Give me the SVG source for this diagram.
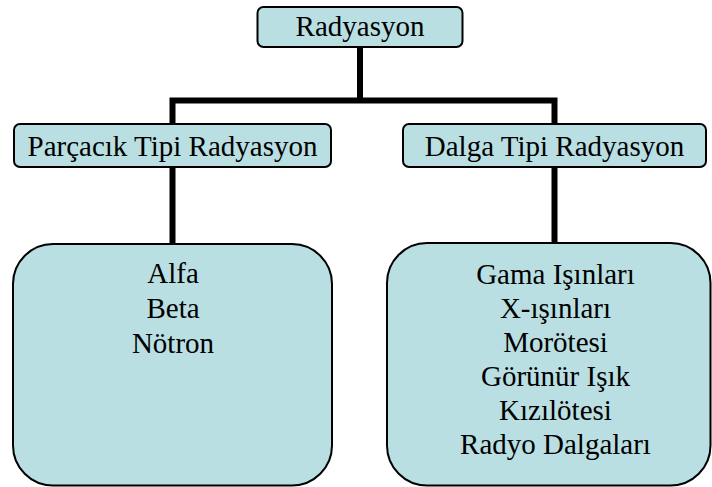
<svg xmlns="http://www.w3.org/2000/svg" width="712" height="487" viewBox="0 0 712 487">
<style>
.box{fill:#B9DFE3;stroke:#000;stroke-width:2}
.t{font-family:'Liberation Serif','Times New Roman',serif;font-size:29px;fill:#000;text-anchor:middle}
.c{fill:none;stroke:#000;stroke-width:6}
</style>
<rect width="712" height="487" fill="#fff"/>
<g id="connectors">
<path class="c" d="M360,47 V100.5 M172.5,100.5 H557.5 M172.5,97.5 V124 M554.5,97.5 V124 M172.5,167 V244 M554.5,167 V243"/>
</g>
<g id="radyasyon">
<rect class="box" x="257.5" y="7" width="205" height="40" rx="6"/>
<text class="t" x="360" y="36">Radyasyon</text>
</g>
<g id="parcacik">
<rect class="box" x="14" y="124" width="317" height="43" rx="6"/>
<text class="t" x="172.5" y="156">Parçacık Tipi Radyasyon</text>
</g>
<g id="dalga">
<rect class="box" x="403" y="124" width="303" height="43" rx="6"/>
<text class="t" x="554.5" y="156">Dalga Tipi Radyasyon</text>
</g>
<g id="parcacik-list">
<rect class="box" x="13" y="244" width="319" height="241.5" rx="40"/>
<text class="t" x="173" y="283.3">Alfa</text>
<text class="t" x="173" y="318">Beta</text>
<text class="t" x="173" y="352.7">Nötron</text>
</g>
<g id="dalga-list">
<rect class="box" x="387" y="243" width="323.5" height="242.5" rx="40"/>
<text class="t" x="555.5" y="284.3">Gama Işınları</text>
<text class="t" x="555.5" y="318.3">X-ışınları</text>
<text class="t" x="555.5" y="352.3">Morötesi</text>
<text class="t" x="555.5" y="386.3">Görünür Işık</text>
<text class="t" x="555.5" y="420.3">Kızılötesi</text>
<text class="t" x="555.5" y="454.3">Radyo Dalgaları</text>
</g>
</svg>
